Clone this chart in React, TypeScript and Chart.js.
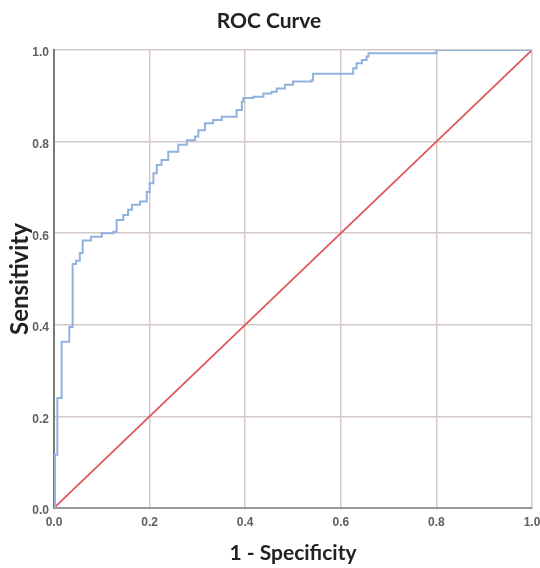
import React, { useEffect, useRef } from "react";
import { Chart, registerables } from "chart.js";

Chart.register(...registerables);

const titleText = "ROC Curve";
const xTitle = "1 - Specificity";
const yTitle = "Sensitivity";

// ROC step vertices (1 - specificity, sensitivity)
const fpr = [
  0, 0.002, 0.007, 0.016, 0.032, 0.039, 0.046, 0.054, 0.06, 0.077, 0.1,
  0.124, 0.131, 0.145, 0.155, 0.163, 0.18, 0.194, 0.2, 0.208, 0.215, 0.225,
  0.239, 0.26, 0.278, 0.295, 0.302, 0.316, 0.333, 0.351, 0.382, 0.393, 0.396,
  0.417, 0.438, 0.455, 0.466, 0.483, 0.5, 0.539, 0.542, 0.626, 0.633, 0.644,
  0.654, 0.658, 0.8, 1.0,
];
const tpr = [
  0, 0.116, 0.24, 0.363, 0.395, 0.533, 0.54, 0.557, 0.584, 0.592, 0.6,
  0.603, 0.629, 0.64, 0.651, 0.662, 0.669, 0.69, 0.709, 0.731, 0.749, 0.76,
  0.778, 0.793, 0.803, 0.811, 0.825, 0.84, 0.847, 0.854, 0.869, 0.887, 0.895,
  0.898, 0.905, 0.909, 0.916, 0.924, 0.931, 0.934, 0.948, 0.96, 0.971, 0.978,
  0.986, 0.993, 1.0, 1.0,
];
const refX = [0, 1];
const refY = [0, 1];
const tickValues = [0, 0.2, 0.4, 0.6, 0.8, 1.0];

export default function App() {
  const ref = useRef<HTMLCanvasElement | null>(null);

  useEffect(() => {
    document.body.style.margin = "0";
    const canvas = ref.current;
    if (!canvas) return;
    const tickFont = { family: "'Liberation Sans', Arial, sans-serif", size: 12, weight: "bold" as const };
    const chart = new Chart(canvas, {
      type: "line",
      data: {
        datasets: [
          {
            label: "ROC",
            data: fpr.map((x, i) => ({ x, y: tpr[i] })),
            borderColor: "#8fb2df",
            borderWidth: 2,
            pointRadius: 0,
            stepped: true,
            fill: false,
          },
          {
            label: "Reference",
            data: refX.map((x, i) => ({ x, y: refY[i] })),
            borderColor: "#e0555a",
            borderWidth: 1.7,
            pointRadius: 0,
            fill: false,
          },
        ],
      },
      options: {
        responsive: false,
        animation: false,
        layout: { padding: { left: 6, right: 8, top: 4, bottom: 0 } },
        plugins: {
          legend: { display: false },
          tooltip: { enabled: false },
          title: {
            display: true,
            text: titleText,
            color: "#222222",
            font: { family: "Lato, 'Open Sans', sans-serif", size: 21, weight: "bold" },
            padding: { top: 5, bottom: 15.8 },
          },
        },
        scales: {
          x: {
            type: "linear",
            min: 0,
            max: 1,
            afterBuildTicks: (s: any) => {
              s.ticks = tickValues.map((v) => ({ value: v }));
            },
            afterFit: (s: any) => {
              s.height = 60;
              s.paddingLeft = 0;
              s.paddingRight = 0;
            },
            ticks: {
              color: "#606060",
              font: tickFont,
              padding: 7,
              maxRotation: 0,
              callback: (v: any) => Number(v).toFixed(1),
            },
            grid: { color: "#d3cac8", lineWidth: 1.5, drawTicks: false },
            border: { color: "#9a9a9a", width: 2 },
            title: {
              display: true,
              text: xTitle,
              color: "#222222",
              font: { family: "Lato, 'Open Sans', sans-serif", size: 21, weight: "bold" },
              padding: { top: 0, bottom: 2 },
            },
          },
          y: {
            type: "linear",
            min: 0,
            max: 1,
            afterBuildTicks: (s: any) => {
              s.ticks = tickValues.map((v) => ({ value: v }));
            },
            afterFit: (s: any) => {
              s.width = 48;
              s.paddingTop = 0;
              s.paddingBottom = 0;
            },
            ticks: {
              color: "#606060",
              font: tickFont,
              padding: 5,
              labelOffset: 3,
              callback: (v: any) => Number(v).toFixed(1),
            },
            grid: { color: "#d3cac8", lineWidth: 1.5, drawTicks: false },
            border: { color: "#7a7a7a", width: 2 },
            title: {
              display: true,
              text: yTitle,
              color: "#222222",
              font: { family: "Lato, 'Open Sans', sans-serif", size: 24, weight: "bold" },
              padding: { top: 0, bottom: 0 },
            },
          },
        },
      },
    });
    return () => chart.destroy();
  }, []);

  return (
    <div style={{ width: 540, height: 568 }}>
      <canvas ref={ref} width={540} height={568} style={{ display: "block" }} />
    </div>
  );
}
